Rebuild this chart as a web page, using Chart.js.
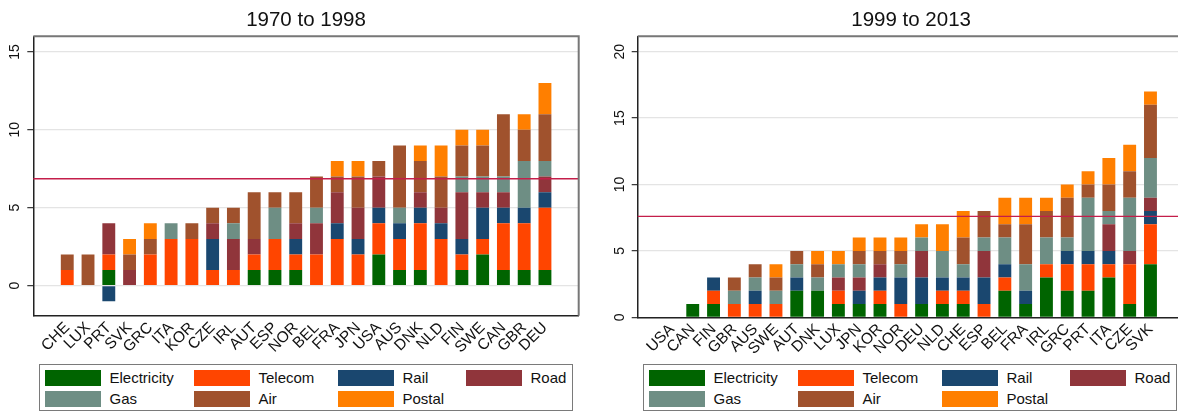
<!DOCTYPE html>
<html>
<head>
<meta charset="utf-8">
<script src="https://cdn.jsdelivr.net/npm/chart.js@4.4.1/dist/chart.umd.min.js"></script>
<style>
    body {
        margin: 0;
        width: 1178px;
        height: 413px;
        overflow: hidden;
        background: #fff;
        position: relative;
        font-family: "Liberation Sans", Arial, sans-serif;
    }
    canvas { position: absolute; top: 0; }
    #leftChart { left: 0; }
    #rightChart { left: 590px; }
    .legend {
        position: absolute;
        top: 364px;
        width: 527px;
        height: 40px;
        padding: 5px 0 0 5px;
        border: 1px solid #7a7a7a;
        display: grid;
        grid-template-columns: 149px 144px 128px 100px;
        grid-auto-rows: 16px;
        row-gap: 5px;
        font-size: 15px;
        color: #111;
    }
    #leftLegend { left: 39px; }
    #rightLegend { left: 643px; }
    .legend-item { display: flex; align-items: center; line-height: 16px; }
    .swatch { width: 56px; height: 16px; margin-right: 8.5px; flex: none; }
</style>
</head>
<body>
<canvas id="leftChart" width="590" height="360"></canvas>
<canvas id="rightChart" width="600" height="360"></canvas>
<div class="legend" id="leftLegend"></div>
<div class="legend" id="rightLegend"></div>

<script>
const seriesNames = ['Electricity', 'Telecom', 'Rail', 'Road', 'Gas', 'Air', 'Postal'];
const seriesColors = ['#006400', '#ff4500', '#1a476f', '#90353b', '#6e8e84', '#a0522d', '#ff7f00'];

// 1970 to 1998
const leftCountries = ['CHE', 'LUX', 'PRT', 'SVK', 'GRC', 'ITA', 'KOR', 'CZE', 'IRL', 'AUT', 'ESP', 'NOR',
    'BEL', 'FRA', 'JPN', 'USA', 'AUS', 'DNK', 'NLD', 'FIN', 'SWE', 'CAN', 'GBR', 'DEU'];
const leftElectricity = [0, 0, 1, 0, 0, 0, 0, 0, 0, 1, 1, 1, 0, 0, 0, 2, 1, 1, 0, 1, 2, 1, 1, 1];
const leftTelecom =     [1, 0, 1, 0, 2, 3, 3, 1, 1, 1, 2, 1, 2, 3, 2, 2, 2, 3, 3, 1, 1, 3, 3, 4];
const leftRail =        [0, 0, -1, 0, 0, 0, 0, 2, 0, 0, 0, 1, 0, 1, 1, 1, 1, 1, 1, 1, 2, 1, 1, 1];
const leftRoad =        [0, 0, 2, 1, 0, 0, 0, 1, 2, 1, 0, 1, 2, 2, 2, 2, 0, 1, 1, 3, 1, 1, 0, 1];
const leftGas =         [0, 0, 0, 0, 0, 1, 0, 0, 1, 0, 2, 0, 1, 0, 0, 0, 1, 0, 0, 1, 1, 1, 3, 1];
const leftAir =         [1, 2, 0, 1, 1, 0, 1, 1, 1, 3, 1, 2, 2, 1, 2, 1, 4, 2, 2, 2, 2, 4, 2, 3];
const leftPostal =      [0, 0, 0, 1, 1, 0, 0, 0, 0, 0, 0, 0, 0, 1, 1, 0, 0, 1, 2, 1, 1, 0, 1, 2];
const leftMean = 6.86;

// 1999 to 2013
const rightCountries = ['USA', 'CAN', 'FIN', 'GBR', 'AUS', 'SWE', 'AUT', 'DNK', 'LUX', 'JPN', 'KOR', 'NOR',
    'DEU', 'NLD', 'CHE', 'ESP', 'BEL', 'FRA', 'IRL', 'GRC', 'PRT', 'ITA', 'CZE', 'SVK'];
const rightElectricity = [0, 1, 1, 0, 0, 0, 2, 2, 1, 1, 1, 0, 1, 1, 1, 0, 2, 1, 3, 2, 2, 3, 1, 4];
const rightTelecom =     [0, 0, 1, 1, 1, 1, 0, 0, 1, 0, 1, 1, 0, 1, 1, 1, 1, 0, 1, 2, 2, 1, 3, 3];
const rightRail =        [0, 0, 1, 0, 1, 0, 1, 0, 0, 1, 1, 2, 2, 1, 1, 2, 1, 1, 0, 1, 1, 1, 0, 1];
const rightRoad =        [0, 0, 0, 0, 0, 0, 0, 0, 1, 1, 1, 0, 2, 0, 0, 2, 0, 0, 0, 0, 0, 2, 1, 1];
const rightGas =         [0, 0, 0, 1, 1, 1, 1, 1, 1, 1, 0, 1, 1, 2, 1, 1, 2, 2, 2, 1, 4, 1, 4, 3];
const rightAir =         [0, 0, 0, 1, 1, 1, 1, 1, 0, 1, 1, 1, 0, 0, 2, 2, 1, 3, 2, 3, 1, 2, 2, 4];
const rightPostal =      [0, 0, 0, 0, 0, 1, 0, 1, 1, 1, 1, 1, 1, 2, 2, 0, 2, 2, 1, 1, 1, 2, 2, 1];
const rightMean = 7.6;

const yTicksLeft = [0, 5, 10, 15];
const yTicksRight = [0, 5, 10, 15, 20];

Chart.defaults.font.family = '"Liberation Sans", Arial, sans-serif';
Chart.defaults.color = '#111';

// gray frame on top and right of the plot region
const framePlugin = {
    id: 'frame',
    afterDraw(chart) {
        const { ctx, chartArea: a } = chart;
        ctx.save();
        ctx.strokeStyle = '#777';
        ctx.lineWidth = 2;
        ctx.beginPath();
        ctx.moveTo(a.left, a.top);
        ctx.lineTo(a.right, a.top);
        ctx.lineTo(a.right, a.bottom);
        ctx.stroke();
        ctx.restore();
    }
};

// horizontal mean line + vertical y tick labels
const extrasPlugin = {
    id: 'extras',
    afterDatasetsDraw(chart, args, opts) {
        const { ctx, chartArea: a } = chart;
        const y = chart.scales.y.getPixelForValue(opts.mean);
        ctx.save();
        ctx.strokeStyle = '#c41e4a';
        ctx.lineWidth = 1.3;
        ctx.beginPath();
        ctx.moveTo(a.left, y);
        ctx.lineTo(a.right, y);
        ctx.stroke();
        ctx.restore();
    },
    afterDraw(chart, args, opts) {
        const { ctx, chartArea: a } = chart;
        const scale = chart.scales.y;
        ctx.save();
        ctx.fillStyle = '#111';
        ctx.font = '14px "Liberation Sans", Arial, sans-serif';
        ctx.textAlign = 'center';
        ctx.textBaseline = 'alphabetic';
        opts.ticks.forEach(v => {
            const py = scale.getPixelForValue(v);
            ctx.save();
            ctx.translate(a.left - 14, py);
            ctx.rotate(-Math.PI / 2);
            ctx.fillText(String(v), 0, 0);
            ctx.restore();
        });
        ctx.restore();
    }
};

function buildDatasets(series) {
    return series.map((values, i) => ({
        label: seriesNames[i],
        data: values.map((v, idx) => ({ x: idx, y: v })),
        backgroundColor: seriesColors[i],
        borderWidth: 0,
        barPercentage: 0.62,
        categoryPercentage: 1
    }));
}

function createPanel(canvasId, cfg) {
    const ctx = document.getElementById(canvasId).getContext('2d');
    return new Chart(ctx, {
        type: 'bar',
        data: { datasets: buildDatasets(cfg.series) },
        options: {
            responsive: false,
            animation: false,
            layout: { padding: { left: 0, right: cfg.padRight, top: 0, bottom: 0 } },
            plugins: {
                legend: { display: false },
                tooltip: { enabled: false },
                title: {
                    display: true,
                    text: cfg.title,
                    fullSize: false,
                    color: '#111',
                    font: { size: 20.5, weight: 'normal' },
                    padding: { top: 8, bottom: 3.7 }
                },
                extras: { mean: cfg.mean, ticks: cfg.yTicks }
            },
            scales: {
                x: {
                    type: 'linear',
                    stacked: true,
                    min: cfg.xMin,
                    max: cfg.xMax,
                    grid: { display: false, drawTicks: false },
                    border: { display: true, color: '#222', width: 1.5 },
                    ticks: {
                        stepSize: 1,
                        includeBounds: false,
                        autoSkip: false,
                        minRotation: 45,
                        maxRotation: 45,
                        padding: 3,
                        color: '#111',
                        font: { size: 15.5 },
                        callback: v => cfg.labels[v] || ''
                    },
                    afterFit: s => { s.height = cfg.xAxisHeight; }
                },
                y: {
                    stacked: true,
                    min: cfg.yMin,
                    max: cfg.yMax,
                    ticks: { display: false, stepSize: 5, includeBounds: false },
                    grid: { color: '#e4e4e4', lineWidth: 1.3, tickLength: 6, tickColor: '#333', tickWidth: 1.2 },
                    border: { display: true, color: '#222', width: 1.5 },
                    afterFit: s => { s.width = cfg.yAxisWidth; }
                }
            }
        },
        plugins: [framePlugin, extrasPlugin]
    });
}

function buildLegend(id) {
    const el = document.getElementById(id);
    el.innerHTML = seriesNames.map((name, i) => `
        <div class="legend-item">
            <span class="swatch" style="background:${seriesColors[i]}"></span>
            <span>${name}</span>
        </div>`).join('');
}

createPanel('leftChart', {
    title: '1970 to 1998',
    labels: leftCountries,
    series: [leftElectricity, leftTelecom, leftRail, leftRoad, leftGas, leftAir, leftPostal],
    mean: leftMean,
    yTicks: yTicksLeft,
    yMin: -1.93,
    yMax: 16.0,
    xMin: -1.13,
    xMax: 24.12,
    yAxisWidth: 33.3,
    xAxisHeight: 44.3,
    padRight: 11.3
});

createPanel('rightChart', {
    title: '1999 to 2013',
    labels: rightCountries,
    series: [rightElectricity, rightTelecom, rightRail, rightRoad, rightGas, rightAir, rightPostal],
    mean: rightMean,
    yTicks: yTicksRight,
    yMin: 0,
    yMax: 21.16,
    xMin: -1.14,
    xMax: 24.13,
    yAxisWidth: 47.7,
    xAxisHeight: 42.7,
    padRight: 5.5
});

buildLegend('leftLegend');
buildLegend('rightLegend');
</script>
</body>
</html>
